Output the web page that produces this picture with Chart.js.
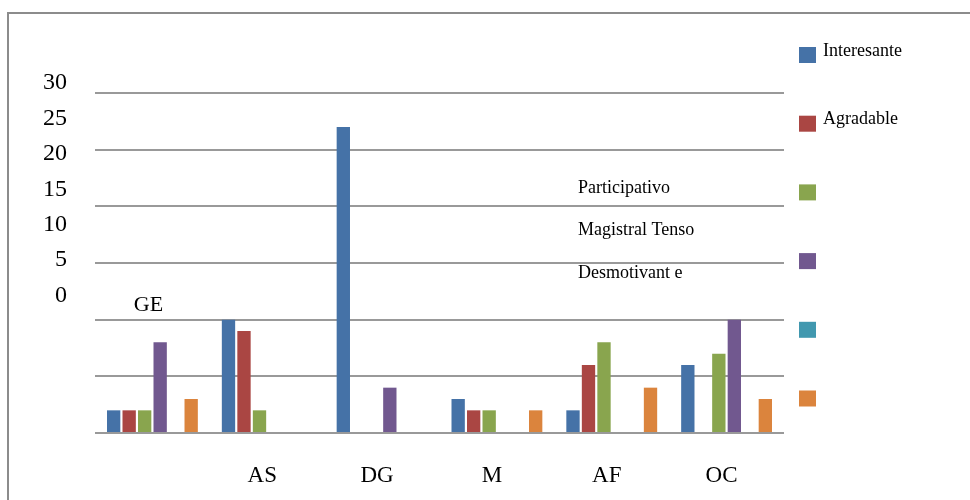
<!DOCTYPE html>
<html>
<head>
<meta charset="utf-8">
<script src="https://cdn.jsdelivr.net/npm/chart.js@4.4.1/dist/chart.umd.min.js"></script>
<style>
  html, body { margin: 0; padding: 0; background: #fff; overflow: hidden; }
  #wrap { position: relative; width: 970px; height: 500px; }
  #frame { position: absolute; left: 7px; top: 12px; width: 990px; height: 520px; border: 2px solid #8c8c8c; box-sizing: border-box; }
  canvas { position: absolute; left: 0; top: 0; }
</style>
</head>
<body>
<div id="wrap">
  <div id="frame"></div>
  <canvas id="chart" width="970" height="500"></canvas>
</div>
<script>
const categories = ['GE', 'AS', 'DG', 'M', 'AF', 'OC'];
const interesante = [2, 10, 27, 3, 2, 6];
const agradable = [2, 9, 0, 2, 6, 0];
const participativo = [2, 2, 0, 2, 8, 7];
const magistral = [8, 0, 4, 0, 0, 10];
const tenso = [0, 0, 0, 0, 0, 0];
const desmotivante = [3, 0, 0, 2, 4, 3];
const yTickLabels = [0, 5, 10, 15, 20, 25, 30];
// legend text as it lands in the original (only the first two sit by their swatch)
const swatchTexts = ['Interesante', 'Agradable'];
const looseTexts = ['Participativo', 'Magistral Tenso', 'Desmotivant e'];

const serif = '"Liberation Serif", "Times New Roman", serif';

const looseText = {
  id: 'looseText',
  afterDraw(chart) {
    const { ctx, scales: { x, y } } = chart;
    ctx.save();
    ctx.fillStyle = '#000';
    ctx.textBaseline = 'middle';

    // GE category label floats above its bars
    ctx.font = '22px ' + serif;
    ctx.textAlign = 'center';
    ctx.fillText(categories[0], x.getPixelForValue(0) - 4, y.getPixelForValue(11.3));

    // swatches down the right side
    chart.data.datasets.forEach((ds, i) => {
      ctx.fillStyle = ds.backgroundColor;
      ctx.fillRect(799, 47 + i * 68.7, 17, 16);
    });

    ctx.fillStyle = '#000';
    ctx.font = '18px ' + serif;
    ctx.textAlign = 'left';
    swatchTexts.forEach((t, i) => ctx.fillText(t, 823, 51 + i * 68.7));
    looseTexts.forEach((t, i) => ctx.fillText(t, 578, 188 + i * 42.5));
    ctx.restore();
  }
};

new Chart(document.getElementById('chart'), {
  type: 'bar',
  data: {
    labels: categories,
    datasets: [
      { label: 'Interesante', data: interesante, backgroundColor: '#4572A7' },
      { label: 'Agradable', data: agradable, backgroundColor: '#AA4643' },
      { label: 'Participativo', data: participativo, backgroundColor: '#89A54E' },
      { label: 'Magistral', data: magistral, backgroundColor: '#71588F' },
      { label: 'Tenso', data: tenso, backgroundColor: '#4198AF' },
      { label: 'Desmotivante', data: desmotivante, backgroundColor: '#DB843D' }
    ]
  },
  options: {
    responsive: false,
    animation: false,
    layout: { padding: { top: 93, right: 186, bottom: 0, left: 0 } },
    datasets: { bar: { categoryPercentage: 0.81, barPercentage: 0.86 } },
    plugins: { legend: { display: false }, tooltip: { enabled: false } },
    scales: {
      x: {
        grid: { display: false, drawTicks: false },
        border: { display: false },
        ticks: {
          maxRotation: 0,
          padding: 29,
          labelOffset: -5,
          color: '#000',
          font: { family: serif, size: 23 },
          callback: (v, i) => i === 0 ? '' : categories[i]
        },
        afterFit: s => { s.height = 67; }
      },
      y: {
        min: 0,
        max: 30,
        ticks: { display: false, stepSize: 5 },
        grid: { color: '#999', lineWidth: 2, drawTicks: false },
        border: { display: false },
        afterFit: s => { s.width = 0; }
      },
      // tick numbers sit off the grid in the original, so they get their own axis
      yLab: {
        position: 'left',
        min: -19.42,
        max: 28.59,
        bounds: 'data',
        grid: { display: false, drawTicks: false },
        border: { display: false },
        ticks: { autoSkip: false, padding: 28, color: '#000', font: { family: serif, size: 24 } },
        afterBuildTicks: s => { s.ticks = yTickLabels.map(v => ({ value: v })); },
        afterFit: s => { s.width = 95; }
      }
    }
  },
  plugins: [looseText]
});
</script>
</body>
</html>
